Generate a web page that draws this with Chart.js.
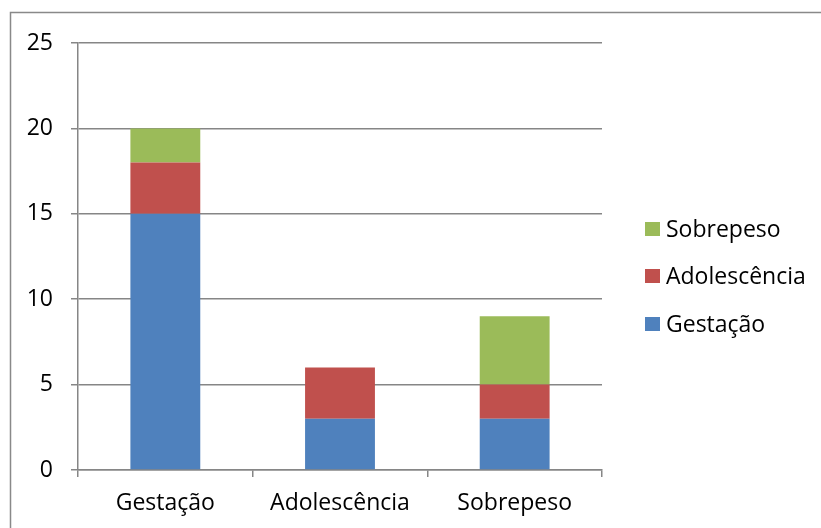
<!DOCTYPE html><html><head><title>Chart</title>
<style>html,body{margin:0;padding:0;background:#fff;overflow:hidden}#chart{display:block}</style>
<script src="https://cdn.jsdelivr.net/npm/chart.js"></script>
</head><body><canvas id="chart" width="821" height="528"></canvas>
<script>
const categories = ['Gestação', 'Adolescência', 'Sobrepeso'];
const gestacao = [15, 3, 3];
const adolescencia = [3, 3, 2];
const sobrepeso = [2, 0, 4];
const yTicks = [0, 5, 10, 15, 20, 25];

const FONT = '"Open Sans", sans-serif';
const GRID = '#868686';

const frame = {
  id: 'frame',
  beforeDraw(c) {
    const ctx = c.ctx;
    ctx.save();
    ctx.fillStyle = '#fff';
    ctx.fillRect(0, 0, c.width, c.height);
    ctx.strokeStyle = '#898989';
    ctx.lineWidth = 1.5;
    ctx.strokeRect(10.5, 12.5, 1000, 1000);
    ctx.restore();
  }
};

const sideLegend = {
  id: 'sideLegend',
  afterDraw(c) {
    const ctx = c.ctx;
    const rows = [229, 276, 324];
    const sets = c.data.datasets.slice().reverse();
    ctx.save();
    ctx.font = '23px ' + FONT;
    ctx.textBaseline = 'middle';
    sets.forEach((ds, i) => {
      ctx.fillStyle = ds.backgroundColor;
      ctx.fillRect(645, rows[i] - 7, 15, 14);
      ctx.fillStyle = '#000';
      ctx.fillText(ds.label, 666, rows[i] + 1);
    });
    ctx.restore();
  }
};

new Chart(document.getElementById('chart'), {
  type: 'bar',
  data: {
    labels: categories,
    datasets: [
      { label: 'Gestação', data: gestacao, backgroundColor: '#4F81BD' },
      { label: 'Adolescência', data: adolescencia, backgroundColor: '#C0504D' },
      { label: 'Sobrepeso', data: sobrepeso, backgroundColor: '#9BBB59' }
    ]
  },
  options: {
    responsive: false,
    animation: false,
    devicePixelRatio: 1,
    layout: { padding: { top: 43, right: 219, left: 0, bottom: 0 } },
    datasets: { bar: { barPercentage: 0.4, categoryPercentage: 1 } },
    plugins: { legend: { display: false }, tooltip: { enabled: false } },
    scales: {
      x: {
        stacked: true,
        afterFit(s) { s.height = 58; },
        grid: { drawOnChartArea: false, color: GRID, lineWidth: 1.5, tickLength: 7 },
        border: { color: GRID, width: 1.5 },
        ticks: { color: '#000', padding: 13, font: { family: FONT, size: 23 } }
      },
      y: {
        stacked: true,
        min: 0, max: 25,
        afterFit(s) { s.width = 78; },
        afterBuildTicks(s) { s.ticks = yTicks.map(v => ({ value: v })); },
        grid: { color: GRID, lineWidth: 1.5, tickLength: 7 },
        border: { color: GRID, width: 1.5 },
        ticks: { color: '#000', padding: 18, font: { family: FONT, size: 23 } }
      }
    }
  },
  plugins: [frame, sideLegend]
});
</script>
</body></html>
